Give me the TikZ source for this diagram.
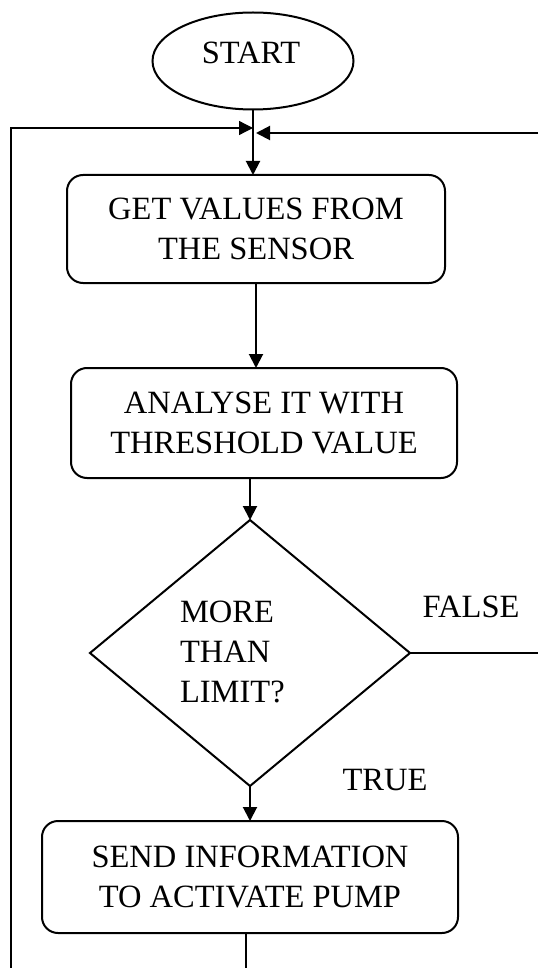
\documentclass[tikz,border=0pt]{standalone}
\usepackage{fontspec}
\setmainfont{Liberation Serif}
\usetikzlibrary{shapes.geometric,arrows.meta}
\begin{document}
\begin{tikzpicture}[y=1pt, x=1pt, yscale=-1, inner sep=0pt, outer sep=0pt,
  every node/.style={font=\fontsize{32.5}{40}\selectfont, align=center},
  procbox/.style={draw=black, line width=2pt, rounded corners=16pt},
  flowline/.style={draw=black, line width=2pt, -{Triangle[length=14pt,width=14pt]}},
  thinline/.style={draw=black, line width=1.3pt}]
\useasboundingbox (0,0) rectangle (538,968);
% terminal and process boxes
\node[ellipse, draw=black, line width=2pt, minimum width=201pt, minimum height=97pt] (start) at (253,61) {};
\node (starttext) at (251,53) {START};
\node[procbox, minimum width=378pt, minimum height=108pt] (get) at (256,229) {GET VALUES FROM\\THE SENSOR};
\node[procbox, minimum width=386pt, minimum height=110pt] (analyse) at (264,423) {ANALYSE IT WITH\\THRESHOLD VALUE};
\node[diamond, draw=black, line width=2pt, minimum width=320pt, minimum height=266pt] (limit) at (250,653) {};
\node[align=left, anchor=west] (limittext) at (180,652) {MORE\\THAN\\LIMIT?};
\node[procbox, minimum width=416pt, minimum height=112pt] (pump) at (250,877) {SEND INFORMATION\\TO ACTIVATE PUMP};
\node (falselabel) at (471,607) {FALSE};
\node (truelabel) at (385,780) {TRUE};
% loop ends
\coordinate (loopbottom) at (11,968);
\coordinate (loopjoin) at (253,128);
\coordinate (loopright) at (538,133);
\coordinate (loopjoinr) at (256,133);
\coordinate (falseend) at (538,653);
% connectors
\draw[flowline] (start.south) -- (start.south |- get.north);
\draw[flowline] (get.south) -- (get.south |- analyse.north);
\draw[flowline] (analyse.south -| limit.north) -- (limit.north);
\draw[flowline] (limit.south) -- (limit.south |- pump.north);
\draw[thinline] ([xshift=-4pt]pump.south) -- ++(0,35);
\draw[thinline] (limit.east) -- (falseend);
\draw[thinline, -{Triangle[length=14pt,width=14pt]}] (loopbottom) |- (loopjoin);
\draw[flowline] (loopright) -- (loopjoinr);
\end{tikzpicture}
\end{document}
